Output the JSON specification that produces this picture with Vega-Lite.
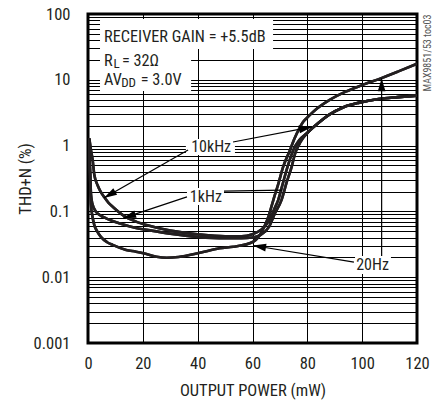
{
  "$schema": "https://vega.github.io/schema/vega-lite/v6.json",
  "width": 329,
  "height": 329,
  "autosize": {"type": "none"},
  "padding": {"left": 88, "top": 14, "right": 20, "bottom": 59},
  "background": "#ffffff",
  "config": {
    "font": "'Roboto Condensed', 'DejaVu Sans Condensed', 'Liberation Sans', sans-serif",
    "view": {"stroke": "#000000", "strokeWidth": 3},
    "axis": {
      "labelFont": "'Roboto Condensed', 'DejaVu Sans Condensed', 'Liberation Sans', sans-serif",
      "titleFont": "'Roboto Condensed', 'DejaVu Sans Condensed', 'Liberation Sans', sans-serif",
      "labelFontSize": 16.5,
      "titleFontSize": 16.5,
      "labelColor": "#231f20",
      "titleColor": "#231f20",
      "titleFontWeight": "normal",
      "domain": false,
      "ticks": false,
      "grid": true,
      "gridColor": "#000000",
      "gridWidth": 1,
      "gridOpacity": 1,
      "labelOverlap": false
    }
  },
  "datasets": {
    "curves": [
      {"series": "10kHz", "power": 0.47, "thd": 1.3},
      {"series": "10kHz", "power": 1.0, "thd": 0.9},
      {"series": "10kHz", "power": 1.7, "thd": 0.6},
      {"series": "10kHz", "power": 2.3, "thd": 0.36},
      {"series": "10kHz", "power": 3.5, "thd": 0.25},
      {"series": "10kHz", "power": 4.6, "thd": 0.2},
      {"series": "10kHz", "power": 5.9, "thd": 0.165},
      {"series": "10kHz", "power": 7.5, "thd": 0.135},
      {"series": "10kHz", "power": 9, "thd": 0.118},
      {"series": "10kHz", "power": 12.7, "thd": 0.088},
      {"series": "10kHz", "power": 17.5, "thd": 0.07},
      {"series": "10kHz", "power": 22, "thd": 0.061},
      {"series": "10kHz", "power": 30, "thd": 0.051},
      {"series": "10kHz", "power": 40, "thd": 0.045},
      {"series": "10kHz", "power": 50, "thd": 0.042},
      {"series": "10kHz", "power": 56, "thd": 0.042},
      {"series": "10kHz", "power": 60, "thd": 0.045},
      {"series": "10kHz", "power": 63, "thd": 0.052},
      {"series": "10kHz", "power": 66, "thd": 0.072},
      {"series": "10kHz", "power": 68, "thd": 0.11},
      {"series": "10kHz", "power": 69.4, "thd": 0.15},
      {"series": "10kHz", "power": 71, "thd": 0.26},
      {"series": "10kHz", "power": 72.8, "thd": 0.48},
      {"series": "10kHz", "power": 74.9, "thd": 0.86},
      {"series": "10kHz", "power": 77, "thd": 1.2},
      {"series": "10kHz", "power": 79.8, "thd": 1.54},
      {"series": "10kHz", "power": 84, "thd": 2.2},
      {"series": "10kHz", "power": 88, "thd": 2.95},
      {"series": "10kHz", "power": 93, "thd": 3.8},
      {"series": "10kHz", "power": 99, "thd": 4.5},
      {"series": "10kHz", "power": 106, "thd": 5.1},
      {"series": "10kHz", "power": 113, "thd": 5.45},
      {"series": "10kHz", "power": 120, "thd": 5.75},

      {"series": "1kHz", "power": 0.4, "thd": 1.25},
      {"series": "1kHz", "power": 0.7, "thd": 0.5},
      {"series": "1kHz", "power": 1.1, "thd": 0.18},
      {"series": "1kHz", "power": 1.6, "thd": 0.13},
      {"series": "1kHz", "power": 2.9, "thd": 0.099},
      {"series": "1kHz", "power": 4.5, "thd": 0.087},
      {"series": "1kHz", "power": 6.6, "thd": 0.0785},
      {"series": "1kHz", "power": 11.4, "thd": 0.066},
      {"series": "1kHz", "power": 17.5, "thd": 0.056},
      {"series": "1kHz", "power": 22, "thd": 0.052},
      {"series": "1kHz", "power": 30, "thd": 0.046},
      {"series": "1kHz", "power": 40, "thd": 0.041},
      {"series": "1kHz", "power": 50, "thd": 0.039},
      {"series": "1kHz", "power": 56, "thd": 0.039},
      {"series": "1kHz", "power": 60, "thd": 0.04},
      {"series": "1kHz", "power": 63, "thd": 0.044},
      {"series": "1kHz", "power": 66, "thd": 0.058},
      {"series": "1kHz", "power": 68, "thd": 0.09},
      {"series": "1kHz", "power": 70.6, "thd": 0.15},
      {"series": "1kHz", "power": 72.5, "thd": 0.28},
      {"series": "1kHz", "power": 74.3, "thd": 0.48},
      {"series": "1kHz", "power": 75.5, "thd": 0.75},
      {"series": "1kHz", "power": 76.8, "thd": 1.0},
      {"series": "1kHz", "power": 78.3, "thd": 1.28},
      {"series": "1kHz", "power": 80, "thd": 1.55},
      {"series": "1kHz", "power": 84, "thd": 2.2},
      {"series": "1kHz", "power": 88, "thd": 2.95},
      {"series": "1kHz", "power": 93, "thd": 3.8},
      {"series": "1kHz", "power": 99, "thd": 4.5},
      {"series": "1kHz", "power": 106, "thd": 5.1},
      {"series": "1kHz", "power": 113, "thd": 5.45},
      {"series": "1kHz", "power": 120, "thd": 5.75},

      {"series": "20Hz", "power": 0.4, "thd": 1.2},
      {"series": "20Hz", "power": 0.7, "thd": 0.4},
      {"series": "20Hz", "power": 1.1, "thd": 0.125},
      {"series": "20Hz", "power": 1.6, "thd": 0.085},
      {"series": "20Hz", "power": 2.3, "thd": 0.062},
      {"series": "20Hz", "power": 3.2, "thd": 0.051},
      {"series": "20Hz", "power": 4.7, "thd": 0.041},
      {"series": "20Hz", "power": 7, "thd": 0.034},
      {"series": "20Hz", "power": 9, "thd": 0.031},
      {"series": "20Hz", "power": 13.9, "thd": 0.026},
      {"series": "20Hz", "power": 17.5, "thd": 0.0244},
      {"series": "20Hz", "power": 20.2, "thd": 0.0231},
      {"series": "20Hz", "power": 25, "thd": 0.0205},
      {"series": "20Hz", "power": 28.7, "thd": 0.0198},
      {"series": "20Hz", "power": 33, "thd": 0.0203},
      {"series": "20Hz", "power": 40.8, "thd": 0.0235},
      {"series": "20Hz", "power": 48, "thd": 0.0275},
      {"series": "20Hz", "power": 53, "thd": 0.029},
      {"series": "20Hz", "power": 57, "thd": 0.031},
      {"series": "20Hz", "power": 60.3, "thd": 0.0347},
      {"series": "20Hz", "power": 62, "thd": 0.04},
      {"series": "20Hz", "power": 64, "thd": 0.055},
      {"series": "20Hz", "power": 66, "thd": 0.088},
      {"series": "20Hz", "power": 67.6, "thd": 0.149},
      {"series": "20Hz", "power": 69.5, "thd": 0.27},
      {"series": "20Hz", "power": 71.2, "thd": 0.478},
      {"series": "20Hz", "power": 73.7, "thd": 0.857},
      {"series": "20Hz", "power": 75.2, "thd": 1.25},
      {"series": "20Hz", "power": 77, "thd": 1.8},
      {"series": "20Hz", "power": 78.5, "thd": 2.3},
      {"series": "20Hz", "power": 80.5, "thd": 2.8},
      {"series": "20Hz", "power": 83, "thd": 3.5},
      {"series": "20Hz", "power": 88, "thd": 4.9},
      {"series": "20Hz", "power": 94, "thd": 6.6},
      {"series": "20Hz", "power": 100, "thd": 8.3},
      {"series": "20Hz", "power": 107, "thd": 10.6},
      {"series": "20Hz", "power": 113, "thd": 13.3},
      {"series": "20Hz", "power": 120, "thd": 17.5}
    ],
    "boxes": [
      {"x": 4.38, "x2": 67.5, "y": 83.9, "y2": 29.4},
      {"x": 4.38, "x2": 37.6, "y": 29.4, "y2": 6.76},
      {"x": 35.7, "x2": 53.6, "y": 1.26, "y2": 0.719},
      {"x": 36.1, "x2": 49.6, "y": 0.227, "y2": 0.125},
      {"x": 97.4, "x2": 110.5, "y": 0.021, "y2": 0.0112}
    ],
    "leaders": [
      {"x": 36.5, "y": 0.857, "x2": 5.8, "y2": 0.16},
      {"x": 52.9, "y": 1.135, "x2": 81.7, "y2": 1.92},
      {"x": 36.1, "y": 0.166, "x2": 12.8, "y2": 0.079},
      {"x": 49.6, "y": 0.204, "x2": 70.8, "y2": 0.211},
      {"x": 97.0, "y": 0.017, "x2": 60.2, "y2": 0.0303},
      {"x": 107.1, "y": 0.021, "x2": 107.1, "y2": 10.6}
    ],
    "heads": [
      {"x": 5.8, "y": 0.16, "angle": 240.3},
      {"x": 81.7, "y": 1.92, "angle": 79.2},
      {"x": 12.8, "y": 0.079, "angle": 251.8},
      {"x": 60.2, "y": 0.0303, "angle": 279.3},
      {"x": 107.1, "y": 10.6, "angle": 0}
    ],
    "mainText": [
      {"x": 5.84, "y": 45.2, "text": "RECEIVER GAIN = +5.5dB"},
      {"x": 5.84, "y": 19.3, "text": "R"},
      {"x": 12.4, "y": 19.3, "text": "= 32Ω"},
      {"x": 5.84, "y": 9.76, "text": "AV"},
      {"x": 19.2, "y": 9.76, "text": "= 3.0V"}
    ],
    "subText": [
      {"x": 9.3, "y": 17.4, "text": "L"},
      {"x": 12.1, "y": 8.79, "text": "DD"}
    ],
    "curveText": [
      {"x": 44.9, "y": 0.952, "text": "10kHz"},
      {"x": 43.0, "y": 0.168, "text": "1kHz"},
      {"x": 103.8, "y": 0.0153, "text": "20Hz"}
    ],
    "sideText": [
      {"x": 124.0, "y": 25.5, "text": "MAX9851/53 toc03"}
    ]
  },
  "layer": [
    {
      "data": {"name": "curves"},
      "mark": {"type": "line", "interpolate": "monotone", "strokeWidth": 2.6, "color": "#231f20", "clip": true},
      "encoding": {
        "x": {
          "field": "power", "type": "quantitative",
          "scale": {"domain": [0, 120], "nice": false, "zero": false},
          "axis": {
            "values": [0, 20, 40, 60, 80, 100, 120],
            "title": "OUTPUT POWER (mW)",
            "labelPadding": 12,
            "labelFlush": false,
            "titleY": 47,
            "titleBaseline": "middle"
          }
        },
        "y": {
          "field": "thd", "type": "quantitative",
          "scale": {"type": "log", "domain": [0.001, 100], "nice": false},
          "axis": {
            "values": [0.001, 0.002, 0.003, 0.004, 0.005, 0.006, 0.007, 0.008, 0.009,
                       0.01, 0.02, 0.03, 0.04, 0.05, 0.06, 0.07, 0.08, 0.09,
                       0.1, 0.2, 0.3, 0.4, 0.5, 0.6, 0.7, 0.8, 0.9,
                       1, 2, 3, 4, 5, 6, 7, 8, 9,
                       10, 20, 30, 40, 50, 60, 70, 80, 90, 100],
            "format": "~g",
            "labelExpr": "indexof([0.001, 0.01, 0.1, 1, 10, 100], datum.value) >= 0 ? datum.label : ''",
            "title": "THD+N (%)",
            "labelPadding": 18,
            "titleX": -63,
            "titleY": 164.5,
            "titleAngle": -90,
            "titleAlign": "center",
            "titleBaseline": "middle"
          }
        },
        "detail": {"field": "series"}
      }
    },
    {
      "data": {"name": "boxes"},
      "mark": {"type": "rect", "fill": "#ffffff", "stroke": null},
      "encoding": {
        "x": {"field": "x", "type": "quantitative"},
        "x2": {"field": "x2"},
        "y": {"field": "y", "type": "quantitative"},
        "y2": {"field": "y2"}
      }
    },
    {
      "data": {"name": "curves"},
      "mark": {"type": "line", "interpolate": "monotone", "strokeWidth": 2.6, "color": "#231f20", "clip": true},
      "encoding": {
        "x": {"field": "power", "type": "quantitative"},
        "y": {"field": "thd", "type": "quantitative"},
        "detail": {"field": "series"}
      }
    },
    {
      "data": {"name": "leaders"},
      "mark": {"type": "rule", "color": "#000000", "strokeWidth": 1.2},
      "encoding": {
        "x": {"field": "x", "type": "quantitative"},
        "x2": {"field": "x2"},
        "y": {"field": "y", "type": "quantitative"},
        "y2": {"field": "y2"}
      }
    },
    {
      "data": {"name": "heads"},
      "mark": {"type": "point", "shape": "M0,0L0.65,2.2L-0.65,2.2Z", "filled": true, "size": 140, "color": "#000000", "opacity": 1},
      "encoding": {
        "x": {"field": "x", "type": "quantitative"},
        "y": {"field": "y", "type": "quantitative"},
        "angle": {"field": "angle", "type": "quantitative", "scale": null}
      }
    },
    {
      "data": {"name": "mainText"},
      "mark": {"type": "text", "align": "left", "baseline": "middle", "fontSize": 16.3, "color": "#231f20"},
      "encoding": {
        "x": {"field": "x", "type": "quantitative"},
        "y": {"field": "y", "type": "quantitative"},
        "text": {"field": "text"}
      }
    },
    {
      "data": {"name": "subText"},
      "mark": {"type": "text", "align": "left", "baseline": "middle", "fontSize": 13, "color": "#231f20"},
      "encoding": {
        "x": {"field": "x", "type": "quantitative"},
        "y": {"field": "y", "type": "quantitative"},
        "text": {"field": "text"}
      }
    },
    {
      "data": {"name": "curveText"},
      "mark": {"type": "text", "align": "center", "baseline": "middle", "fontSize": 16, "color": "#231f20"},
      "encoding": {
        "x": {"field": "x", "type": "quantitative"},
        "y": {"field": "y", "type": "quantitative"},
        "text": {"field": "text"}
      }
    },
    {
      "data": {"name": "sideText"},
      "mark": {"type": "text", "align": "center", "baseline": "middle", "fontSize": 10, "angle": 270, "color": "#555555"},
      "encoding": {
        "x": {"field": "x", "type": "quantitative"},
        "y": {"field": "y", "type": "quantitative"},
        "text": {"field": "text"}
      }
    }
  ]
}
